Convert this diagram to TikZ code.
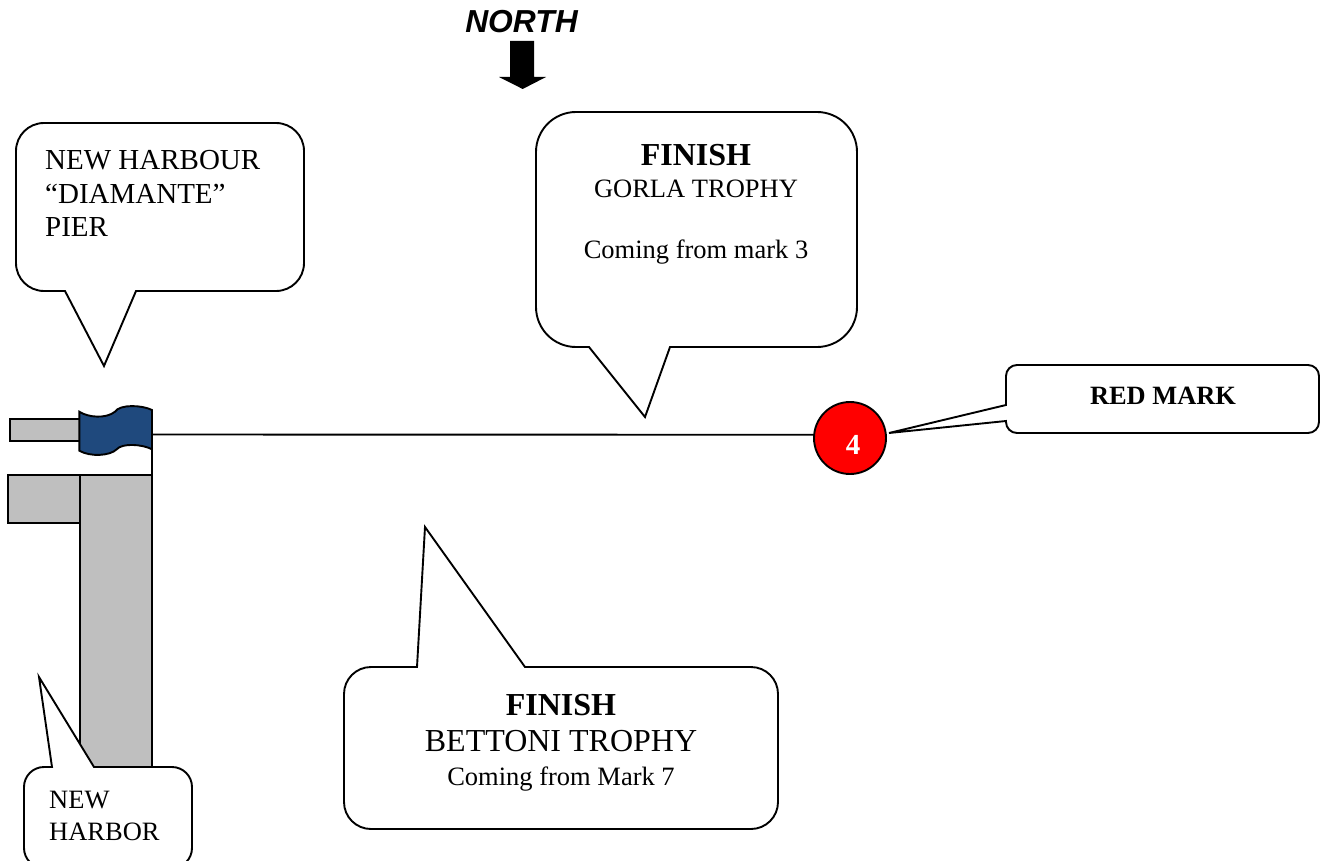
\documentclass[tikz,border=0pt]{standalone}
\usepackage{fontspec}
\setmainfont{Liberation Serif}
\newfontfamily\northfont{Liberation Sans}
\tikzset{
	x=1pt, y=-1pt,
	outline/.style={draw=black, line width=1.9pt},
	callout/.style={outline, fill=white, line join=miter},
	quay/.style={outline, fill=gray!50!white},
	label/.style={inner sep=0pt, align=center, font=\fontsize{26.5}{32}\selectfont},
	leftlabel/.style={label, align=left, anchor=north west},
}

\begin{document}
\begin{tikzpicture}
		\useasboundingbox (0,0) rectangle (1322,861);
		\clip (0,0) rectangle (1322,861);

		% north arrow
		\node[inner sep=0pt, font=\northfont\bfseries\itshape\fontsize{31.8}{36}\selectfont] (north) at (521.5,22) {NORTH};
		\fill (510,41) -- (534,41) -- (534,77) -- (546,77) -- (522.7,89) -- (499,77) -- (510,77) -- cycle;

		% pier
		\draw[quay] (10,419) rectangle (80,441);
		\draw[quay] (8,475) rectangle (80,523);
		\draw[quay] (80,475) rectangle (152,790);
		\draw[outline] (152,449) -- (152,498);

		% flag and red mark
		\node[circle, draw=black, line width=1.9pt, fill=red, minimum size=72pt, inner sep=0pt] (markfour) at (850,438) {};
		\node[inner sep=0pt, text=white, font=\bfseries\fontsize{29}{32}\selectfont] (fourtext) at (853,445) {4};
		\coordinate (pierflag) at (152,434.5);
		\draw[outline, fill={rgb,255:red,31;green,73;blue,125}] (79.3,411.7) .. controls (88,417.5) and (106,419) .. (115,411.7) .. controls (120,404) and (142,405) .. (152,410) -- (152,449.3) .. controls (142,444) and (122,443) .. (116.7,449.3) .. controls (110,456) and (90,457) .. (79.3,450.7) -- cycle;
		\draw[outline] (pierflag) -- (markfour.175);

		% callouts
		\draw[callout] (65,291) -- (104,366) -- (136,291) [rounded corners=28pt] -- (304,291) -- (304,123) -- (16,123) -- (16,291) [sharp corners] -- cycle;
		\node[leftlabel, font=\fontsize{29}{33.6}\selectfont] (harbourtext) at (45,150) {NEW HARBOUR\\``DIAMANTE''\\PIER};

		\draw[callout] (589,347) -- (645,417) -- (670,347) [rounded corners=40pt] -- (857,347) -- (857,112) -- (536,112) -- (536,347) [sharp corners] -- cycle;
		\node[label, font=\bfseries\fontsize{32}{36}\selectfont] (finishgorla) at (696,155) {FINISH};
		\node[label, below=0pt] (gorlatext) at (696,180) {GORLA TROPHY};
		\node[label] (gorlafrom) at (696,252.5) {Coming from mark 3};

		\draw[callout] (1006,405) -- (889,433) -- (1006,421) [rounded corners=11pt] -- (1006,433) -- (1319,433) -- (1319,365) -- (1006,365) [sharp corners] -- cycle;
		\node[label, font=\bfseries\fontsize{26.4}{30}\selectfont] (redtext) at (1163,396) {RED MARK};

		\draw[callout] (417,667) -- (425,527) -- (525,667) [rounded corners=27pt] -- (778,667) -- (778,829) -- (344,829) -- (344,667) [sharp corners] -- cycle;
		\node[label, font=\bfseries\fontsize{32}{36}\selectfont] (finishbettoni) at (561,705) {FINISH};
		\node[label, font=\fontsize{32}{36}\selectfont] (bettonitext) at (561,741) {BETTONI TROPHY};
		\node[label] (bettonifrom) at (561,779) {Coming from Mark 7};

		\draw[callout] (52,767) -- (39,677) -- (94,767) [rounded corners=20pt] -- (192,767) -- (192,868) -- (24,868) -- (24,767) [sharp corners] -- cycle;
		\node[leftlabel] (newharbor) at (49,791) {NEW\\HARBOR};
\end{tikzpicture}
\end{document}
